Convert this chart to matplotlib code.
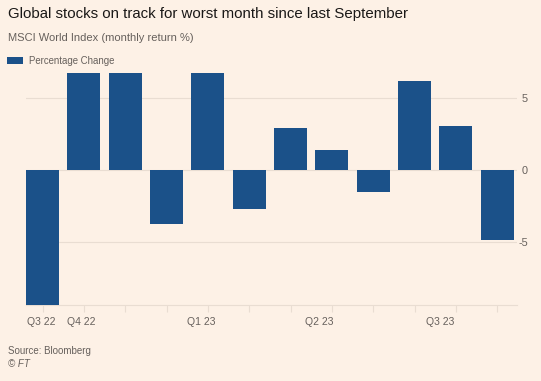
import matplotlib.pyplot as plt
import numpy as np

# monthly returns, Sep 22 .. Aug 23 (top three bars run off the chart)
months = ["Sep 22", "Oct 22", "Nov 22", "Dec 22", "Jan 23", "Feb 23",
          "Mar 23", "Apr 23", "May 23", "Jun 23", "Jul 23", "Aug 23"]
returns = [-9.4, 7.2, 7.0, -3.75, 7.1, -2.7, 2.9, 1.4, -1.55, 6.15, 3.05, -4.9]

quarter_labels = ["Q3 22", "Q4 22", "Q1 23", "Q2 23", "Q3 23"]
quarter_pos = [-0.03, 0.94, 3.83, 6.7, 9.61]
y_ticks = [-5, 0, 5]

BG = "#fdf1e6"
BAR = "#1b5189"
GRID = "#e9ddd2"
DARK = "#1a1817"
GREY = "#66605c"

plt.rcParams["font.family"] = ["Liberation Sans", "DejaVu Sans"]

fig = plt.figure(figsize=(5.41, 3.81), dpi=100, facecolor=BG)
ax = fig.add_axes([26 / 541, 76 / 381, 491 / 541, 231.7 / 381], facecolor=BG)

x = np.arange(len(months))
ax.bar(x, returns, width=0.8, color=BAR, zorder=3, label="Percentage Change")

ax.set_xlim(-0.4, 11.48)
ax.set_ylim(-9.4, 6.7)

ax.set_yticks(y_ticks)
ax.set_yticklabels([str(v) for v in y_ticks])
ax.yaxis.tick_right()
ax.tick_params(axis="y", length=0, pad=8, labelsize=7.8, labelcolor=GREY)
for lab in ax.get_yticklabels():
    lab.set_horizontalalignment("right")
ax.grid(axis="y", color=GRID, linewidth=0.8, zorder=0)

# ticks at every bar, quarter labels placed as text under the axis
ax.set_xticks(x)
ax.set_xticklabels([])
ax.tick_params(axis="x", length=5, width=0.8, color=GRID, direction="out")
for lab, p in zip(quarter_labels, quarter_pos):
    ax.text(p, -0.075, lab, transform=ax.get_xaxis_transform(),
            ha="center", va="center", fontsize=7.5, color=GREY)

for s in ["top", "right", "left"]:
    ax.spines[s].set_visible(False)
ax.spines["bottom"].set_color(GRID)
ax.spines["bottom"].set_linewidth(0.8)

fig.text(8 / 541, 1 - 14 / 381, "Global stocks on track for worst month since last September",
         fontsize=10.8, color=DARK, va="center", ha="left")
fig.text(8 / 541, 1 - 38 / 381, "MSCI World Index (monthly return %)",
         fontsize=8, color=GREY, va="center", ha="left")

leg = fig.legend(loc="center left", bbox_to_anchor=(3 / 541, 1 - 61 / 381),
                 frameon=False, fontsize=6.9, handlelength=1.7, handleheight=0.7,
                 handletextpad=0.6, labelcolor=GREY, borderaxespad=0)

fig.text(8 / 541, 1 - 351 / 381, "Source: Bloomberg", fontsize=7, color=GREY,
         va="center", ha="left")
fig.text(8 / 541, 1 - 364 / 381, "© FT", fontsize=7, color=GREY, style="italic",
         va="center", ha="left")

fig.savefig("out.png", dpi=100, facecolor=BG)
